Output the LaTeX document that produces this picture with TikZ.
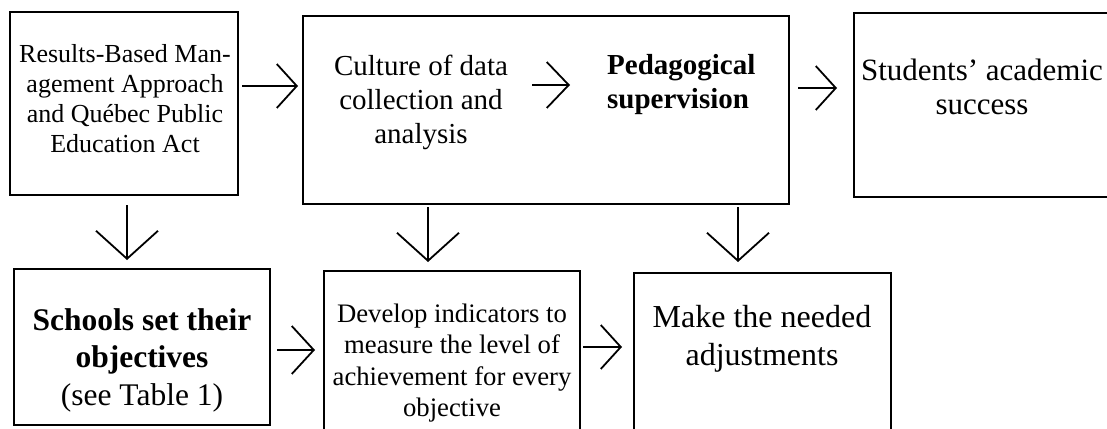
\documentclass[tikz,border=0pt]{standalone}
\usepackage{fontspec}
\setmainfont{Liberation Serif}
\usetikzlibrary{arrows.meta}
\begin{document}
\begin{tikzpicture}[x=1pt,y=-1pt,
  box/.style={draw, line width=2pt, inner sep=0pt, outer sep=0pt, rectangle},
  txt/.style={inner sep=0pt, align=center, anchor=base},
  harr/.style={line width=1.8pt, -{Straight Barb[length=20pt,width=44pt]}},
  varr/.style={line width=1.8pt, -{Straight Barb[length=28pt,width=62pt]}}]
\useasboundingbox (0,0) rectangle (1107,428);
\clip (0,0) rectangle (1107,428);
% boxes
\node[box, minimum width=228pt, minimum height=183pt] (A) at (124,103.5) {};
\node[box, minimum width=486pt, minimum height=188pt] (B) at (546,110) {};
\node[box, minimum width=266pt, minimum height=184pt] (C) at (987,105) {};
\node[box, minimum width=256pt, minimum height=156pt] (D) at (142,347) {};
\node[box, minimum width=256pt, minimum height=168pt] (E) at (452,355) {};
\node[box, minimum width=257pt, minimum height=167pt] (F) at (762.5,356.5) {};
% texts (anchored at the baseline of their last line)
\node[txt, font=\fontsize{26}{30}\selectfont] (tA) at (125,152) {Results-Based Man-\\agement Approach\\and Québec Public\\Education Act};
\node[txt, font=\fontsize{29}{34}\selectfont] (tB1) at (421,143) {Culture of data\\collection and\\analysis};
\node[txt, align=left, anchor=base west, font=\bfseries\fontsize{29}{34}\selectfont] (tB2) at (607,108) {Pedagogical\\supervision};
\node[txt, font=\fontsize{31}{34}\selectfont] (tC) at (982,114) {Students’ academic\\success};
\node[txt, font=\fontsize{31.5}{37.5}\selectfont] (tD) at (142,405) {\textbf{Schools set their}\\\textbf{objectives}\\(see Table 1)};
\node[txt, font=\fontsize{26.7}{31.5}\selectfont] (tE) at (452,416.5) {Develop indicators to\\measure the level of\\achievement for every\\objective};
\node[txt, font=\fontsize{32}{38}\selectfont] (tF) at (762,365) {Make the needed\\adjustments};
% helper levels
\coordinate (r1) at (0,86);
\coordinate (r2) at (0,85);
\coordinate (r3) at (0,88);
\coordinate (r4) at (0,350);
\coordinate (r5) at (0,347);
\coordinate (c1) at (127,0);
\coordinate (c2) at (428,0);
\coordinate (c3) at (738,0);
% connectors
\draw[harr, shorten <=4pt, shorten >=5pt] (A.east |- r1) -- (B.west |- r1);
\draw[harr, -{Straight Barb[length=22pt,width=46pt]}, shorten <=24pt, shorten >=37pt] (tB1.east |- r2) -- (tB2.west |- r2);
\draw[harr, shorten <=9pt, shorten >=17pt] (B.east |- r3) -- (C.west |- r3);
\draw[harr, -{Straight Barb[length=22pt,width=48pt]}, shorten <=7pt, shorten >=9pt] (D.east |- r4) -- (E.west |- r4);
\draw[harr, shorten <=3pt, shorten >=12pt] (E.east |- r5) -- (F.west |- r5);
\draw[varr, shorten <=10pt, shorten >=9pt] (A.south -| c1) -- (D.north -| c1);
\draw[varr, shorten <=3pt, shorten >=9pt] (B.south -| c2) -- (E.north -| c2);
\draw[varr, shorten <=3pt, shorten >=11pt] (B.south -| c3) -- (F.north -| c3);
\end{tikzpicture}
\end{document}
